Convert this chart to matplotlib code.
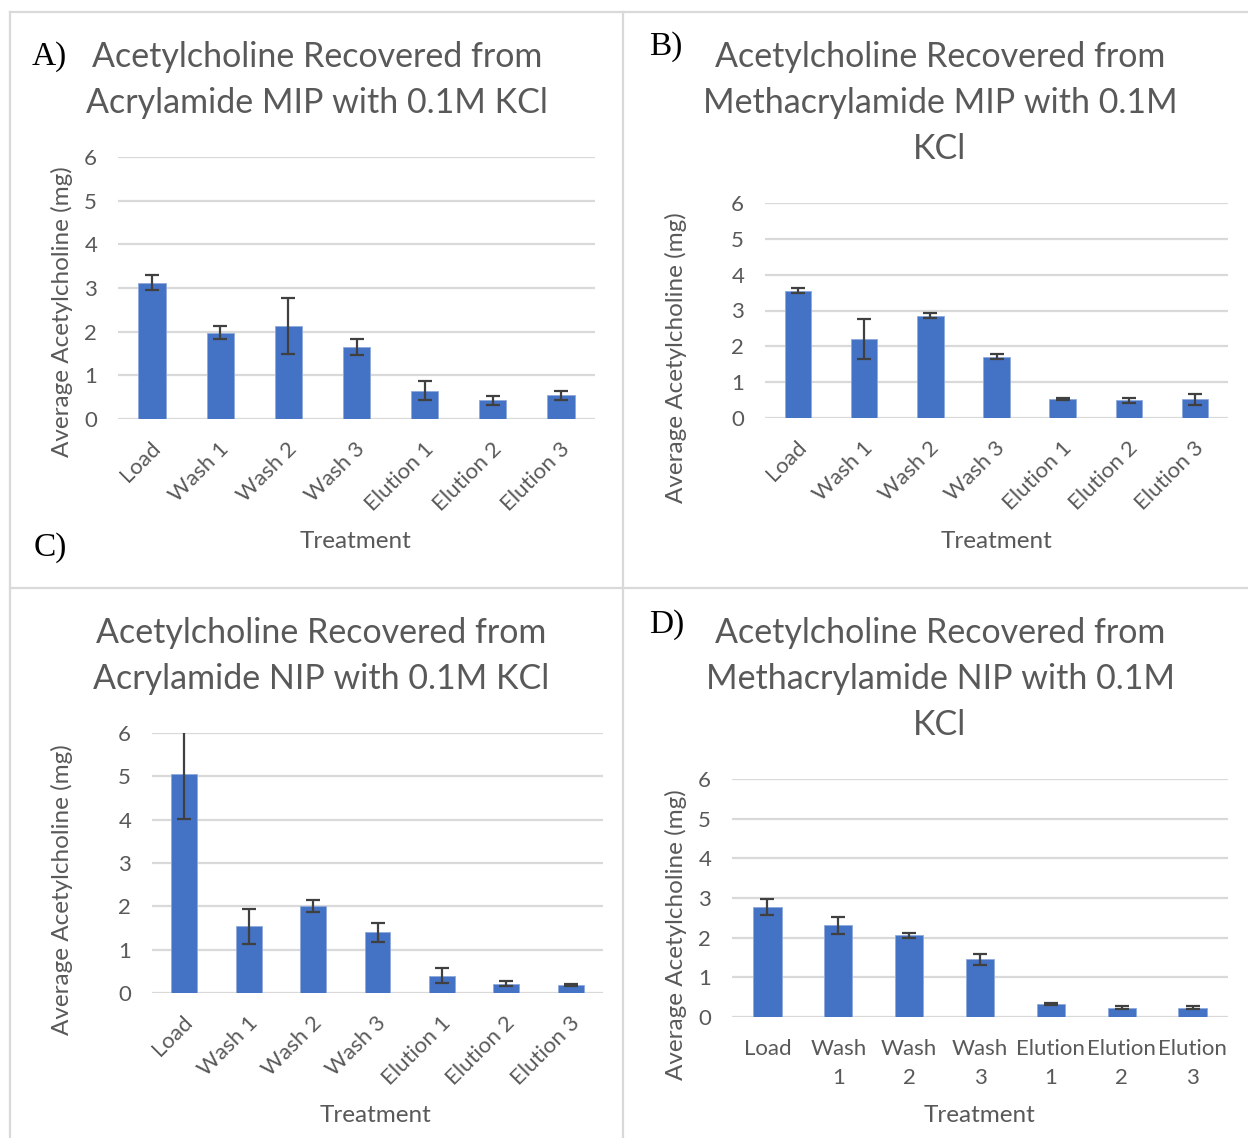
import matplotlib
matplotlib.use("Agg")
import matplotlib.pyplot as plt
from matplotlib.transforms import ScaledTranslation
from matplotlib.lines import Line2D

categories = ["Load", "Wash 1", "Wash 2", "Wash 3", "Elution 1", "Elution 2", "Elution 3"]
categories_wrapped = ["Load", "Wash\n1", "Wash\n2", "Wash\n3", "Elution\n1", "Elution\n2", "Elution\n3"]

vals_a = [3.12, 1.98, 2.13, 1.65, 0.65, 0.43, 0.54]
err_a = [0.17, 0.14, 0.63, 0.18, 0.22, 0.10, 0.10]
vals_b = [3.55, 2.20, 2.86, 1.71, 0.54, 0.50, 0.52]
err_b = [0.07, 0.55, 0.07, 0.065, 0.03, 0.07, 0.16]
vals_c = [5.05, 1.54, 2.00, 1.40, 0.40, 0.215, 0.18]
err_c = [1.04, 0.41, 0.14, 0.22, 0.17, 0.055, 0.02]
vals_d = [2.77, 2.31, 2.06, 1.45, 0.33, 0.23, 0.235]
err_d = [0.21, 0.21, 0.07, 0.14, 0.035, 0.04, 0.03]

titles = {
    "A": ["Acetylcholine Recovered from", "Acrylamide MIP with 0.1M KCl"],
    "B": ["Acetylcholine Recovered from", "Methacrylamide MIP with 0.1M", "KCl"],
    "C": ["Acetylcholine Recovered from", "Acrylamide NIP with 0.1M KCl"],
    "D": ["Acetylcholine Recovered from", "Methacrylamide NIP with 0.1M", "KCl"],
}
yticks = [0, 1, 2, 3, 4, 5, 6]

W, H = 1248, 1138
fig = plt.figure(figsize=(W / 100, H / 100), dpi=100)
fig.patch.set_facecolor("white")

SANS = "Lato"
SERIF = "Liberation Serif"
TXT = "#595959"
GRID = "#D9D9D9"
BAR = "#4472C4"
ERR = "#404040"
TICK_FS = 16
LAB_FS = 17.5

def fx(x):
    return x / W

def fy(y):
    return 1 - y / H

# panel borders
border = "#D9D9D9"
for (x0, y0, x1, y1) in [(10, 12, W, 12), (10, 12, 10, H), (623, 12, 623, H), (10, 588, W, 588)]:
    fig.add_artist(Line2D([fx(x0), fx(x1)], [fy(y0), fy(y1)], color=border, lw=1.6))

def panel(vals, errs, box, title_lines, title_x, title_y0, ylab_xy, treat_xy, rotated=True):
    x0, x1, yt, yb = box
    ax = fig.add_axes([fx(x0), fy(yb), (x1 - x0) / W, (yb - yt) / H])
    xs = list(range(len(categories)))
    ax.bar(xs, vals, width=0.4, color=BAR, edgecolor="#8FAADC", linewidth=0.6, zorder=3)
    ax.errorbar(xs, vals, yerr=errs, fmt="none", ecolor=ERR, elinewidth=1.6,
                capsize=5, capthick=1.6, zorder=4)
    ax.set_xlim(-0.5, len(categories) - 0.5)
    ax.set_ylim(0, 6)
    ax.set_yticks(yticks)
    ax.set_yticklabels([str(t) for t in yticks])
    ax.grid(axis="y", color=GRID, lw=1.6, zorder=0)
    ax.set_axisbelow(True)
    for s in ax.spines.values():
        s.set_visible(False)
    ax.tick_params(axis="both", length=0, colors=TXT, labelsize=TICK_FS)
    ax.tick_params(axis="y", pad=15)
    for lab in ax.get_yticklabels():
        lab.set_fontfamily(SANS)
    ax.set_xticks(xs)
    if rotated:
        ax.set_xticklabels(categories, rotation=45, ha="right", rotation_mode="anchor",
                           fontfamily=SANS, fontsize=TICK_FS, color=TXT)
        ax.tick_params(axis="x", pad=14)
        off = ScaledTranslation(-1 / 72, 0, fig.dpi_scale_trans)
        for lab in ax.get_xticklabels():
            lab.set_transform(lab.get_transform() + off)
    else:
        ax.set_xticklabels(categories_wrapped, fontfamily=SANS, fontsize=TICK_FS, color=TXT,
                           linespacing=1.55)
        ax.tick_params(axis="x", pad=16)
    ax.set_facecolor("none")
    # title
    for i, line in enumerate(title_lines):
        fig.text(fx(title_x), fy(title_y0 + 46 * i), line, ha="center", va="center",
                 fontsize=24.5, color=TXT, fontfamily=SANS)
    fig.text(fx(ylab_xy[0]), fy(ylab_xy[1]), "Average Acetylcholine (mg)", rotation=90,
             ha="center", va="center", fontsize=LAB_FS, color=TXT, fontfamily=SANS)
    fig.text(fx(treat_xy[0]), fy(treat_xy[1]), "Treatment", ha="center", va="center",
             fontsize=LAB_FS, color=TXT, fontfamily=SANS)
    return ax

panel(vals_a, err_a, (118, 595, 157, 419), titles["A"], 317, 57, (62, 312), (356, 541))
panel(vals_b, err_b, (765, 1228, 203, 418), titles["B"], 940, 57, (676, 358), (996, 541))
panel(vals_c, err_c, (152, 603, 733, 993), titles["C"], 321, 633, (62, 890), (376, 1116))
panel(vals_d, err_d, (732, 1228, 779, 1017), titles["D"], 940, 633, (676, 935), (980, 1116),
      rotated=False)

for lab, x, y in [("A)", 49, 57), ("B)", 666, 47), ("C)", 50, 548), ("D)", 667, 625)]:
    fig.text(fx(x), fy(y), lab, ha="center", va="center", fontsize=24, color="black",
             fontfamily=SERIF)

fig.savefig("out.png", dpi=100, facecolor="white")
